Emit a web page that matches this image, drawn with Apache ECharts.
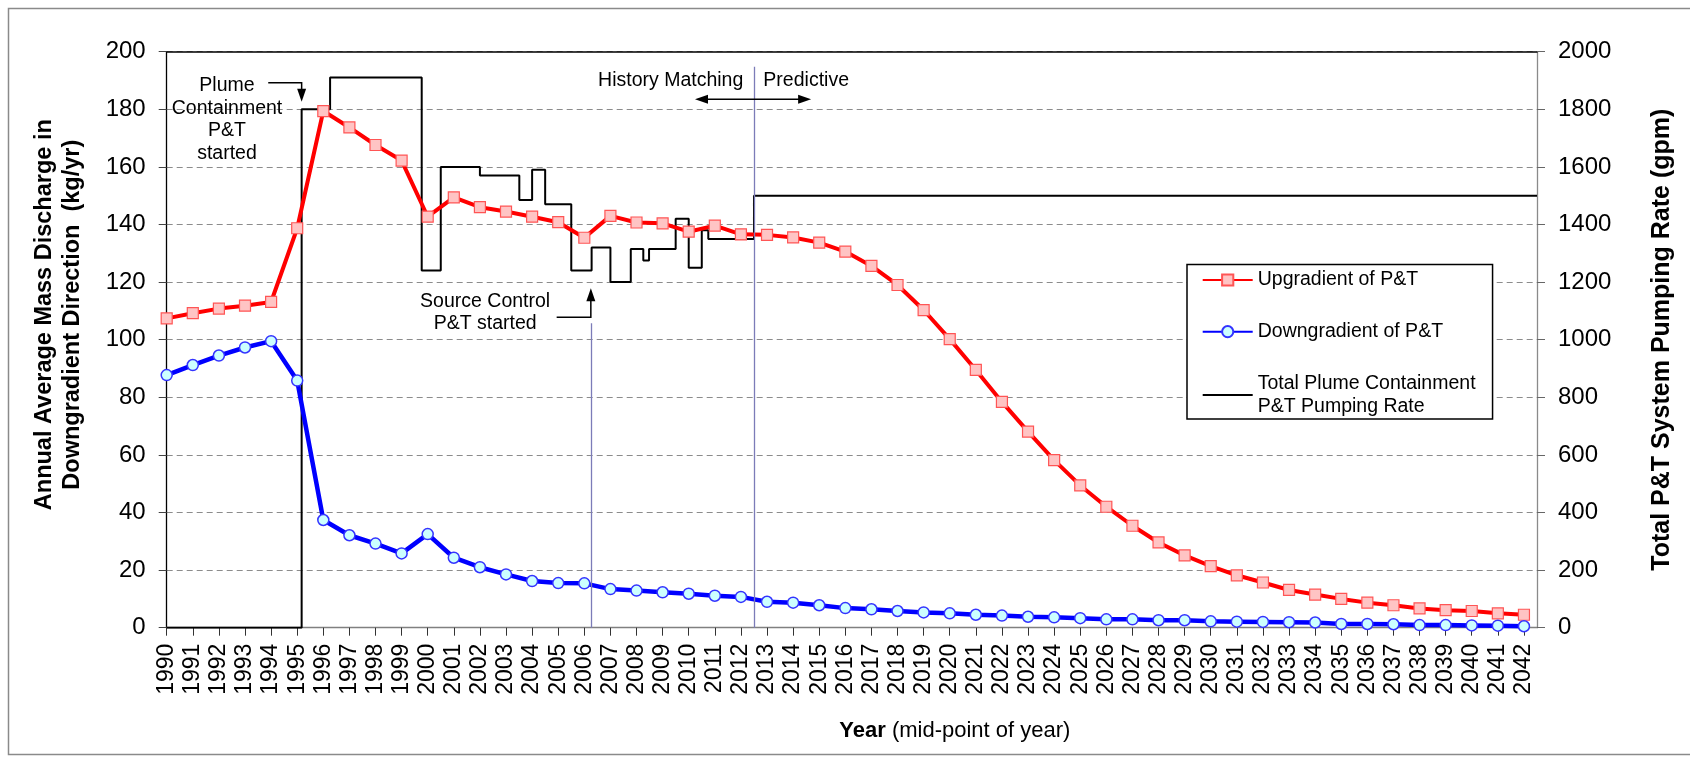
<!DOCTYPE html>
<html><head><meta charset="utf-8">
<script src="https://cdn.jsdelivr.net/npm/echarts@6/dist/echarts.min.js"></script>
<style>html,body{margin:0;padding:0;background:#fff}#c{width:1690px;height:758px}</style>
</head><body><div id="c"></div>
<script>
// ---------------- data ----------------
const years = [1990,1991,1992,1993,1994,1995,1996,1997,1998,1999,
  2000,2001,2002,2003,2004,2005,2006,2007,2008,2009,
  2010,2011,2012,2013,2014,2015,2016,2017,2018,2019,
  2020,2021,2022,2023,2024,2025,2026,2027,2028,2029,
  2030,2031,2032,2033,2034,2035,2036,2037,2038,2039,
  2040,2041,2042];
// Upgradient of P&T (kg/yr)
const upgradient = [107.4,109.2,110.8,111.8,113.1,138.7,179.4,173.7,167.6,162.2,
  142.7,149.4,146.0,144.5,142.7,140.8,135.4,143.0,140.7,140.4,
  137.5,139.6,136.6,136.4,135.5,133.7,130.6,125.6,119.0,110.3,
  100.2,89.5,78.4,68.1,58.2,49.4,42.0,35.4,29.6,25.1,
  21.4,18.2,15.7,13.1,11.5,10.0,8.7,7.8,6.7,6.1,
  5.8,5.0,4.5];
// Downgradient of P&T (kg/yr)
const downgradient = [87.7,91.2,94.5,97.3,99.5,85.8,37.4,32.1,29.2,25.8,
  32.5,24.3,21.0,18.5,16.2,15.5,15.4,13.4,12.9,12.3,
  11.8,11.1,10.7,9.0,8.7,7.8,6.8,6.4,5.8,5.3,
  5.0,4.5,4.2,3.8,3.6,3.3,2.9,2.9,2.6,2.6,
  2.2,2.1,2.0,1.9,1.8,1.3,1.3,1.2,0.9,0.9,
  0.8,0.7,0.5];
// Total plume containment P&T pumping rate (gpm): rate in force from each time on
const pumpTimes = [1990,1995.17,1996.26,1999.77,2000.5,2002.0,2003.51,2004.0,2004.5,2005.5,
  2006.28,2007.0,2007.78,2008.26,2008.48,2009.5,2010.0,2010.5,2010.75,2012.5,2042.5];
const pumpRates = [0,1800,1910,1240,1600,1570,1485,1590,1470,1240,
  1320,1200,1315,1275,1315,1420,1250,1380,1350,1500,1500];
const leftTicks = [0,20,40,60,80,100,120,140,160,180,200];
const rightTicks = [0,200,400,600,800,1000,1200,1400,1600,1800,2000];
// event markers (year, top of the marker line in gpm)
const eventLines = [[2006.25, 1057], [2012.5, 1948]];
const seriesNames = ['Upgradient of P&T','Downgradient of P&T','Total Plume Containment\nP&T Pumping Rate'];

// ---------------- chart ----------------
const FONT = "'Liberation Sans', Arial, sans-serif";
const chart = echarts.init(document.getElementById('c'), null, {renderer:'canvas'});

const option = {
  animation:false,
  backgroundColor:'#fff',
  grid:{left:166.7, right:153, top:51.7, bottom:130.3, containLabel:false},
  legend:{
    orient:'vertical', left:1187, top:264.5,
    data:[
      {name:seriesNames[0]},
      {name:seriesNames[1]},
      {name:seriesNames[2], itemStyle:{color:'rgba(0,0,0,0)', borderColor:'rgba(0,0,0,0)', borderWidth:0}}
    ],
    itemWidth:50, itemHeight:14, itemGap:28.7, padding:[4,17,1,14.7],
    borderColor:'#000', borderWidth:1.5, backgroundColor:'#fff', selectedMode:false,
    textStyle:{fontSize:19.5, lineHeight:23, color:'#000', fontFamily:FONT}
  },
  xAxis:[{
    type:'value', min:1990, max:2042.5, interval:1,
    axisLine:{lineStyle:{color:'#808080', width:1.3}},
    axisTick:{customValues:years, length:8, lineStyle:{color:'#333'}},
    axisLabel:{customValues:years, rotate:90, margin:16, fontSize:23, color:'#000', fontFamily:FONT, formatter:v=>String(v)},
    splitLine:{show:false},
    name:'{b|Year} (mid-point of year)', nameLocation:'middle', nameGap:92,
    nameTextStyle:{fontSize:22, color:'#000', fontFamily:FONT, padding:[0,0,0,206],
      rich:{b:{fontSize:22, fontWeight:'bold', fontFamily:FONT, color:'#000'}}}
  },{
    type:'value', position:'top', min:1990, max:2042.5,
    axisLine:{show:true, onZero:false, lineStyle:{color:'#000', width:1.5}},
    axisTick:{show:false}, axisLabel:{show:false}, splitLine:{show:false}
  }],
  yAxis:[{
    type:'value', min:0, max:200, interval:20, position:'left',
    axisLine:{show:true, lineStyle:{color:'#000', width:1.3}},
    axisTick:{show:true, length:8, lineStyle:{color:'#444'}},
    axisLabel:{customValues:leftTicks, fontSize:24, margin:21, color:'#000', fontFamily:FONT, formatter:v=>String(v)},
    splitLine:{show:true, lineStyle:{color:'#8c8c8c', type:[6,4], width:1}},
    name:'Annual Average Mass Discharge in\nDowngradient Direction  (kg/yr)',
    nameLocation:'middle', nameRotate:90, nameGap:80,
    nameTextStyle:{fontSize:23.5, fontWeight:'bold', lineHeight:28, color:'#000', fontFamily:FONT, padding:[0,0,0,50]}
  },{
    type:'value', min:0, max:2000, interval:200, position:'right',
    axisLine:{show:true, lineStyle:{color:'#8a8a8a', width:1.3}},
    axisTick:{show:true, length:8, lineStyle:{color:'#666'}},
    axisLabel:{customValues:rightTicks, fontSize:24, margin:21, color:'#000', fontFamily:FONT, formatter:v=>String(v)},
    splitLine:{show:false},
    name:'Total P&T System Pumping Rate (gpm)',
    nameLocation:'middle', nameRotate:90, nameGap:113,
    nameTextStyle:{fontSize:25, fontWeight:'bold', color:'#000', fontFamily:FONT}
  }],
  series:[{
    name:seriesNames[2], type:'line', xAxisIndex:0, yAxisIndex:1, step:'end',
    data:pumpTimes.map((t,i)=>[t,pumpRates[i]]),
    symbol:'none', lineStyle:{color:'#000', width:2}, itemStyle:{color:'#000'}, z:2,
    markLine:{silent:true, symbol:['none','none'], label:{show:false},
      lineStyle:{color:'#7c7cb8', type:'solid', width:1.3},
      data:eventLines.map(e=>[{coord:[e[0],0]},{coord:[e[0],e[1]]}])}
  },{
    name:seriesNames[0], type:'line', xAxisIndex:0, yAxisIndex:0,
    data:years.map((y,i)=>[y,upgradient[i]]),
    symbol:'rect', symbolSize:11,
    lineStyle:{color:'#ff0000', width:4},
    itemStyle:{color:'#ffc4c4', borderColor:'#ff5555', borderWidth:1.2}, z:3
  },{
    name:seriesNames[1], type:'line', xAxisIndex:0, yAxisIndex:0,
    data:years.map((y,i)=>[y,downgradient[i]]),
    symbol:'circle', symbolSize:11,
    lineStyle:{color:'#0000ff', width:4.5},
    itemStyle:{color:'#ccffff', borderColor:'#3333ff', borderWidth:1.5}, z:4
  }]
};
chart.setOption(option);

// ---------------- annotations (anchored in data space) ----------------
const P = (x,y)=>chart.convertToPixel({xAxisIndex:0, yAxisIndex:0},[x,y]);
function txt(p, text, align, lh){
  return {type:'text', z:50, style:{text:text, x:p[0], y:p[1], fill:'#000',
    font:'19.5px '+FONT, fontSize:19.5, fontFamily:FONT, lineHeight:lh||22.5,
    align:align, textAlign:align, verticalAlign:'middle', textVerticalAlign:'middle'}};
}
function poly(pts){
  return {type:'polyline', z:50, shape:{points:pts}, style:{stroke:'#000', lineWidth:1.5, fill:null}};
}
function head(tip, dir){ // dir: 'down','up','left','right'
  const L=13, W=4.5; let pts;
  if(dir==='down') pts=[tip,[tip[0]-W,tip[1]-L],[tip[0]+W,tip[1]-L]];
  if(dir==='up') pts=[tip,[tip[0]-W,tip[1]+L],[tip[0]+W,tip[1]+L]];
  if(dir==='left') pts=[tip,[tip[0]+L,tip[1]-W],[tip[0]+L,tip[1]+W]];
  if(dir==='right') pts=[tip,[tip[0]-L,tip[1]-W],[tip[0]-L,tip[1]+W]];
  return {type:'polygon', z:50, shape:{points:pts}, style:{fill:'#000', stroke:null}};
}
const g = [];
// Plume containment started
g.push(txt(P(1992.31,176.4),'Plume\nContainment\nP&T\nstarted','center',22.5));
const a1 = P(1993.89,189.2), a2 = P(1995.17,189.2), a3 = P(1995.17,182.6);
g.push(poly([a1,a2,[a2[0],a3[1]-12]]));
g.push(head(a3,'down'));
// History matching / predictive
g.push(txt(P(2012.09,189.8),'History Matching','right'));
g.push(txt(P(2012.86,189.8),'Predictive','left'));
const d1 = P(2010.24,183.5), d2 = P(2014.69,183.5);
g.push(poly([[d1[0]+10,d1[1]],[d2[0]-10,d2[1]]]));
g.push(head(d1,'left')); g.push(head(d2,'right'));
// Source control started
g.push(txt(P(2002.2,109.3),'Source Control\nP&T started','center',22.3));
const s1 = P(2004.94,107.8), s2 = P(2006.25,107.8), s3 = P(2006.25,117.85);
g.push(poly([s1,s2,[s2[0],s3[1]+12]]));
g.push(head(s3,'up'));
// outer frame
g.push({type:'rect', z:0, shape:{x:8.5,y:8.5,width:1700,height:746}, style:{fill:null, stroke:'#8a8a8a', lineWidth:1.5}});
chart.setOption({graphic:g});
</script>
</body></html>
